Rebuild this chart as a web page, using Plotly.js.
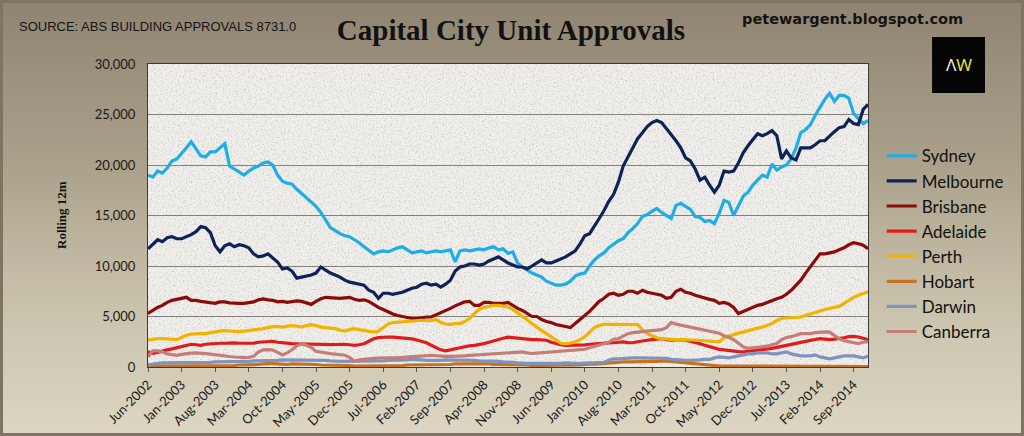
<!DOCTYPE html>
<html>
<head>
<meta charset="utf-8">
<script src="https://cdn.plot.ly/plotly-3.0.1.min.js"></script>
<style>
  html, body { margin: 0; padding: 0; }
  #wrap {
    width: 1024px; height: 436px; box-sizing: border-box;
    border: 3px solid #7d7463;
    background: linear-gradient(to bottom, #8f8471 0%, #a99f89 35%, #c9c2ab 70%, #dcd6c2 100%);
  }
  #chart { width: 1018px; height: 430px; }
</style>
</head>
<body>
<div id="wrap"><div id="chart"></div></div>
<script>
// monthly rolling 12m unit approvals, Jun-2002 .. Dec-2014
const tickLabels = ['Jun-2002', 'Jan-2003', 'Aug-2003', 'Mar-2004', 'Oct-2004', 'May-2005',
  'Dec-2005', 'Jul-2006', 'Feb-2007', 'Sep-2007', 'Apr-2008', 'Nov-2008', 'Jun-2009',
  'Jan-2010', 'Aug-2010', 'Mar-2011', 'Oct-2011', 'May-2012', 'Dec-2012', 'Jul-2013',
  'Feb-2014', 'Sep-2014'];

const cities = ['Sydney', 'Melbourne', 'Brisbane', 'Adelaide', 'Perth', 'Hobart', 'Darwin', 'Canberra'];

const sydney = [
  19000, 18800, 19400, 19200, 19700, 20400, 20600, 21100, 21700, 22300,
  21600, 20900, 20800, 21300, 21300, 21700, 22100, 19900, 19600, 19300,
  19000, 19400, 19700, 19900, 20200, 20300, 20000, 19000, 18400, 18200,
  18100, 17600, 17200, 16700, 16300, 15900, 15300, 14600, 13800, 13500,
  13200, 13000, 12900, 12600, 12300, 11900, 11500, 11200, 11400, 11500,
  11400, 11600, 11800, 11900, 11600, 11300, 11400, 11500, 11300, 11400,
  11500, 11400, 11500, 11600, 10400, 11500, 11600, 11500, 11600, 11700,
  11600, 11800, 11900, 11600, 11700, 11250, 11400, 10300, 9900, 9600,
  9300, 9100, 8900, 8500, 8300, 8100, 8100, 8200, 8500, 9000,
  9200, 9300, 10000, 10600, 11000, 11300, 11800, 12200, 12500, 12700,
  13300, 13700, 14200, 14900, 15100, 15400, 15700, 15300, 15000, 14700,
  16000, 16200, 15900, 15600, 14900, 14800, 14400, 14500, 14200, 15200,
  16500, 16300, 15000, 15900, 16900, 17300, 18000, 18500, 19000, 18800,
  20100, 19500, 19800, 20000, 20600, 21700, 23200, 23500, 24000, 24900,
  25700, 26500, 27100, 26300, 26900, 26900, 26600, 25100, 24600, 24100,
  24400];

const melbourne = [
  11700, 12200, 12600, 12400, 12800, 12900, 12700, 12700, 12900, 13100,
  13400, 13900, 13800, 13300, 12000, 11400, 12000, 12200, 11900, 12100,
  12000, 11800, 11200, 10900, 11000, 11200, 10800, 10400, 9700, 9800,
  9500, 8800, 8900, 9000, 9100, 9300, 9900, 9600, 9300, 9100,
  8900, 8600, 8400, 8300, 8200, 8100, 7600, 7400, 6800, 7300,
  7300, 7200, 7300, 7400, 7600, 7800, 7900, 8200, 8300, 8100,
  8200, 7900, 8200, 8600, 9500, 9900, 10000, 10200, 10200, 10100,
  10200, 10500, 10700, 10900, 10600, 10300, 10100, 9900, 9900, 9700,
  10000, 10300, 10600, 10300, 10300, 10500, 10700, 10900, 11200, 11500,
  12200, 13000, 13200, 13900, 14700, 15500, 16400, 17100, 18300, 19900,
  20800, 21600, 22600, 23200, 23800, 24200, 24400, 24200, 23600, 23100,
  22400, 21700, 20700, 20400, 19600, 18500, 18800, 18000, 17300, 18000,
  19400, 19300, 19400, 20200, 21200, 21900, 22500, 23100, 22900, 23100,
  23400, 22900, 20600, 21400, 20700, 20500, 21700, 21700, 21700, 22000,
  22400, 22400, 22900, 23300, 23700, 23800, 24500, 24100, 24000, 25500,
  26000];

const brisbane = [
  5300, 5600, 5900, 6100, 6400, 6600, 6700, 6800, 6900, 6600,
  6600, 6500, 6450, 6350, 6300, 6450, 6450, 6350, 6300, 6300,
  6300, 6350, 6450, 6650, 6750, 6650, 6600, 6450, 6500, 6400,
  6450, 6550, 6500, 6350, 6200, 6500, 6750, 6900, 6850, 6800,
  6800, 6850, 6900, 6700, 6600, 6650, 6500, 6200, 5900, 5700,
  5450, 5250, 5100, 5000, 4900, 4800, 4800, 4900, 4950, 4950,
  5150, 5350, 5600, 5800, 6050, 6250, 6450, 6500, 6100, 6100,
  6400, 6400, 6300, 6300, 6300, 6400, 6100, 5800, 5600, 5300,
  5000, 5000, 4700, 4500, 4400, 4200, 4100, 4000, 3900, 4300,
  4700, 5000, 5500, 6000, 6500, 6800, 7200, 7300, 7100, 7200,
  7500, 7500, 7300, 7600, 7400, 7300, 7200, 7100, 6800, 6900,
  7500, 7700, 7400, 7300, 7100, 6950, 6850, 6700, 6600, 6300,
  6400, 6250, 5900, 5300, 5500, 5700, 5950, 6100, 6200, 6400,
  6600, 6750, 6900, 7200, 7600, 8100, 8600, 9300, 9900, 10600,
  11200, 11200, 11300, 11400, 11600, 11800, 12100, 12300, 12200, 12050,
  11700];

const adelaide = [
  1500, 1350, 1450, 1600, 1700, 1800, 1900, 2000, 2100, 2250,
  2200, 2150, 2250, 2300, 2350, 2350, 2350, 2380, 2380, 2350,
  2330, 2320, 2350, 2450, 2500, 2550, 2550, 2450, 2380, 2330,
  2320, 2300, 2280, 2260, 2250, 2240, 2230, 2220, 2220, 2230,
  2250, 2240, 2200, 2150, 2200, 2300, 2550, 2800, 2900, 2970,
  2970, 2950, 2920, 2880, 2830, 2780, 2680, 2550, 2400, 2150,
  1900, 1700, 1600, 1700, 1850, 1950, 2050, 2100, 2150, 2200,
  2320, 2450, 2600, 2700, 2850, 2950, 2900, 2800, 2750, 2710,
  2710, 2710, 2710, 2650, 2450, 2300, 2200, 2150, 2150, 2150,
  2150, 2200, 2250, 2300, 2320, 2350, 2380, 2400, 2450, 2480,
  2420, 2400, 2500, 2600, 2650, 2710, 2750, 2800, 2700, 2650,
  2680, 2710, 2650, 2550, 2450, 2300, 2150, 2000, 1850, 1750,
  1700, 1620, 1580, 1520, 1500, 1550, 1600, 1680, 1750, 1800,
  1850, 1950, 2050, 2200, 2320, 2400, 2480, 2560, 2640, 2720,
  2800, 2760, 2720, 2760, 2810, 2900, 3000, 3040, 2970, 2800,
  2700];

const perth = [
  2650, 2750, 2800, 2800, 2800, 2750, 2700, 2900, 3150, 3250,
  3300, 3300, 3300, 3400, 3450, 3550, 3600, 3550, 3500, 3500,
  3550, 3600, 3650, 3700, 3800, 3900, 4000, 4000, 3950, 4050,
  4100, 4050, 3950, 4100, 4200, 4100, 3950, 3900, 3850, 3800,
  3650, 3550, 3700, 3800, 3700, 3600, 3500, 3450, 3550, 3900,
  4250, 4400, 4450, 4500, 4550, 4550, 4600, 4630, 4600, 4600,
  4700, 4400, 4250, 4230, 4300, 4300, 4500, 4800, 5300, 5700,
  5900, 6000, 6100, 6100, 6050, 5950, 5700, 5350, 4950, 4600,
  4250, 3950, 3600, 3300, 3000, 2650, 2350, 2320, 2350, 2500,
  2700, 3000, 3400, 3900, 4100, 4230, 4230, 4230, 4230, 4230,
  4230, 4230, 4200, 3700, 3300, 3100, 2900, 2800, 2750, 2710,
  2710, 2710, 2710, 2710, 2700, 2650, 2600, 2550, 2480, 2500,
  2900, 3050, 3250, 3350, 3450, 3600, 3750, 3850, 3950, 4100,
  4300, 4600, 4800, 4850, 4900, 4950, 4950, 5100, 5250, 5450,
  5600, 5700, 5800, 5900, 6000, 6300, 6600, 6900, 7100, 7300,
  7450];

const hobart = [
  100, 100, 100, 100, 100, 100, 100, 100, 100, 100,
  100, 100, 100, 100, 100, 100, 150, 150, 150, 200,
  200, 200, 250, 250, 300, 350, 350, 300, 250, 250,
  300, 300, 300, 300, 250, 250, 200, 200, 150, 150,
  150, 150, 150, 100, 100, 100, 100, 100, 100, 100,
  100, 150, 150, 150, 200, 200, 200, 200, 200, 250,
  250, 250, 250, 250, 300, 300, 300, 300, 350, 300,
  300, 300, 250, 250, 250, 200, 200, 200, 200, 200,
  150, 150, 150, 150, 200, 200, 200, 200, 200, 200,
  200, 250, 250, 300, 300, 350, 400, 450, 500, 500,
  500, 500, 500, 550, 500, 500, 550, 600, 600, 550,
  500, 450, 400, 350, 300, 300, 250, 200, 150, 100,
  100, 100, 100, 100, 100, 100, 100, 100, 100, 100,
  100, 100, 100, 100, 100, 100, 100, 100, 100, 100,
  100, 100, 100, 100, 100, 50, 50, 50, 50, 50,
  50];

const darwin = [
  200, 300, 350, 400, 400, 400, 400, 450, 450, 450,
  450, 450, 450, 450, 500, 500, 500, 500, 550, 550,
  550, 550, 600, 600, 600, 650, 650, 650, 700, 700,
  700, 700, 700, 700, 700, 700, 650, 650, 600, 550,
  550, 550, 550, 550, 550, 550, 550, 550, 600, 600,
  650, 650, 650, 700, 700, 750, 750, 700, 650, 650,
  600, 650, 700, 700, 650, 650, 650, 650, 650, 600,
  600, 600, 550, 550, 500, 500, 450, 400, 350, 350,
  350, 350, 300, 350, 350, 350, 350, 400, 350, 350,
  350, 400, 400, 400, 400, 450, 700, 800, 800, 850,
  850, 900, 900, 900, 900, 900, 900, 900, 850, 750,
  700, 650, 650, 650, 650, 700, 750, 750, 900, 1000,
  950, 900, 1000, 1100, 1200, 1300, 1300, 1400, 1400, 1400,
  1300, 1300, 1400, 1500, 1300, 1200, 1100, 1100, 1100, 1200,
  1000, 900, 800, 900, 1000, 1100, 1100, 1100, 1000, 900,
  1100];

const canberra = [
  1000, 1600, 1600, 1500, 1300, 1200, 1160, 1250, 1330, 1370,
  1390, 1380, 1330, 1280, 1200, 1130, 1080, 1040, 990, 940,
  930, 950, 1050, 1500, 1700, 1720, 1680, 1450, 1200, 1400,
  1700, 2100, 2300, 2150, 1950, 1550, 1450, 1350, 1320, 1270,
  1240, 1160, 950, 560, 700, 780, 820, 860, 890, 920,
  930, 930, 930, 950, 990, 1010, 1050, 1080, 1110, 1160,
  1120, 1070, 1060, 1060, 1060, 1060, 1100, 1150, 1180, 1210,
  1230, 1250, 1280, 1300, 1330, 1380, 1420, 1460, 1490, 1400,
  1340, 1380, 1420, 1460, 1490, 1530, 1570, 1610, 1640, 1650,
  1690, 1760, 1900, 2050, 2200, 2350, 2450, 2750, 2800, 3050,
  3300, 3400, 3460, 3500, 3550, 3570, 3630, 3700, 3900, 4400,
  4250, 4150, 4050, 3950, 3830, 3750, 3650, 3550, 3480, 3350,
  3100, 2950, 2700, 2300, 2000, 1850, 1900, 1980, 2020, 2060,
  2200, 2320, 2700, 2920, 3000, 3150, 3300, 3300, 3300, 3400,
  3470, 3470, 3450, 3150, 2800, 2600, 2500, 2400, 2320, 2450,
  2500];

const colors = ['#1fade6', '#0f2258', '#8c0a0a', '#e11b1b', '#f0b400', '#c8721e', '#7f93bd', '#c47e77'];

// month categories
const monthNames = ['Jan', 'Feb', 'Mar', 'Apr', 'May', 'Jun', 'Jul', 'Aug', 'Sep', 'Oct', 'Nov', 'Dec'];
const months = [];
for (let i = 0; i < sydney.length; i++) {
  const m = (5 + i) % 12;
  const y = 2002 + Math.floor((5 + i) / 12);
  months.push(monthNames[m] + '-' + y);
}

const series = [sydney, melbourne, brisbane, adelaide, perth, hobart, darwin, canberra];

const traces = series.map((vals, k) => ({
  x: months,
  y: vals,
  type: 'scatter',
  mode: 'lines',
  name: cities[k],
  legendgroup: cities[k],
  line: { color: colors[k], width: 3.2 },
  hovertemplate: '%{x}: %{y:,}<extra>' + cities[k] + '</extra>'
}));

// speckled plot-area texture
const noiseSvg = "<svg xmlns='http://www.w3.org/2000/svg' width='720' height='303'>" +
  "<filter id='n'><feTurbulence type='fractalNoise' baseFrequency='0.6' numOctaves='3' seed='4'/>" +
  "<feColorMatrix values='0 0 0 0 0.62  0 0 0 0 0.61  0 0 0 0 0.59  2.6 0 0 0 -1.25'/></filter>" +
  "<rect width='100%' height='100%' fill='#f1efeb'/>" +
  "<rect width='100%' height='100%' filter='url(#n)'/></svg>";

const layout = {
  width: 1018,
  height: 430,
  margin: { l: 145, r: 153, t: 61, b: 66 },
  paper_bgcolor: 'rgba(0,0,0,0)',
  plot_bgcolor: 'rgba(0,0,0,0)',
  showlegend: true,
  title: {
    text: '<b>Capital City Unit Approvals</b>',
    font: { family: 'Liberation Serif, serif', size: 29, color: '#111' },
    xref: 'container', x: 508 / 1018, xanchor: 'center',
    yref: 'container', y: 1 - 27 / 430, yanchor: 'middle'
  },
  xaxis: {
    type: 'category',
    range: [0, months.length - 1],
    tickvals: tickLabels,
    ticktext: tickLabels,
    tickangle: -45,
    ticks: 'outside', ticklen: 4, tickcolor: '#555',
    tickfont: { family: 'Lato, sans-serif', size: 13, color: '#1a1a1a' },
    showgrid: false,
    showline: true, mirror: true, linecolor: '#3a3a3a', linewidth: 1
  },
  yaxis: {
    range: [0, 30000],
    dtick: 5000,
    tickformat: ',',
    ticks: '',
    ticklabelstandoff: 9,
    tickfont: { family: 'Lato, sans-serif', size: 13, color: '#1a1a1a' },
    gridcolor: '#85817a', gridwidth: 1,
    zeroline: false,
    showline: true, mirror: true, linecolor: '#3a3a3a', linewidth: 1
  },
  legend: {
    x: 1.019, xanchor: 'left',
    y: 0.755, yanchor: 'top',
    bgcolor: 'rgba(0,0,0,0)',
    font: { family: 'Lato, sans-serif', size: 17, color: '#111' },
    tracegroupgap: 0,
    itemwidth: 30
  },
  images: [{
    source: 'data:image/svg+xml;charset=utf-8,' + encodeURIComponent(noiseSvg),
    xref: 'paper', yref: 'paper', x: 0, y: 1, sizex: 1, sizey: 1,
    xanchor: 'left', yanchor: 'top', sizing: 'stretch', layer: 'below'
  }],
  shapes: [{
    type: 'rect', xref: 'paper', yref: 'paper',
    x0: 1.089, x1: 1.1625, y0: 0.904, y1: 1.089,
    fillcolor: '#050505', line: { width: 0 }
  }],
  annotations: [
    {
      text: 'SOURCE: ABS BUILDING APPROVALS 8731.0',
      xref: 'paper', yref: 'paper', x: -0.182, y: 1.125,
      xanchor: 'left', yanchor: 'middle', showarrow: false,
      font: { family: 'Liberation Sans, Arial, sans-serif', size: 13, color: '#141414' }
    },
    {
      text: '<b>petewargent.blogspot.com</b>',
      xref: 'paper', yref: 'paper', x: 0.978, y: 1.148,
      xanchor: 'center', yanchor: 'middle', showarrow: false,
      font: { family: 'DejaVu Sans, sans-serif', size: 14.5, color: '#141414' }
    },
    {
      text: '<span style="color:#f2f2f2">Λ</span><span style="color:#e6df3c">W</span>',
      xref: 'paper', yref: 'paper', x: 1.126, y: 0.997,
      xanchor: 'center', yanchor: 'middle', showarrow: false,
      font: { family: 'Noto Sans, sans-serif', size: 17 }
    },
    {
      text: '<b>Rolling 12m</b>',
      xref: 'paper', yref: 'paper', x: -0.1194, y: 0.502,
      xanchor: 'center', yanchor: 'middle', textangle: -90, showarrow: false,
      font: { family: 'Liberation Serif, serif', size: 13, color: '#111' }
    }
  ]
};

Plotly.newPlot('chart', traces, layout, { displayModeBar: false, staticPlot: true });
</script>
</body>
</html>
